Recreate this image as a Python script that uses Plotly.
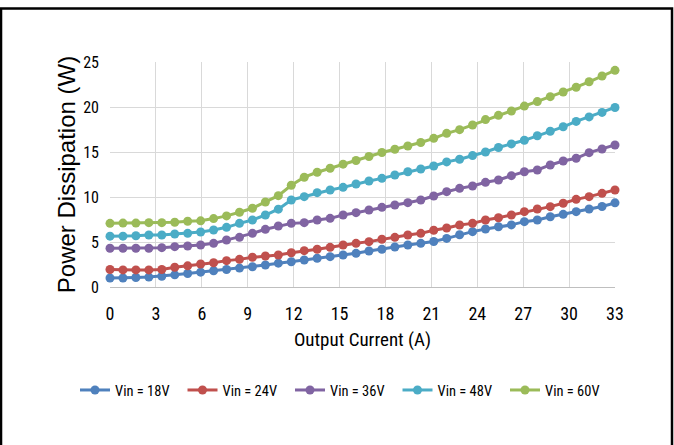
import plotly.graph_objects as go

current = [0, 0.846, 1.692, 2.538, 3.385, 4.231, 5.077, 5.923, 6.769, 7.615,
           8.462, 9.308, 10.154, 11, 11.846, 12.692, 13.538, 14.385, 15.231, 16.077,
           16.923, 17.769, 18.615, 19.462, 20.308, 21.154, 22, 22.846, 23.692, 24.538,
           25.385, 26.231, 27.077, 27.923, 28.769, 29.615, 30.462, 31.308, 32.154, 33]

vin18 = [1.0, 1.0, 1.05, 1.1, 1.2, 1.35, 1.5, 1.65, 1.8, 1.95,
         2.1, 2.25, 2.45, 2.65, 2.8, 3.0, 3.2, 3.37, 3.56, 3.74,
         4.0, 4.19, 4.45, 4.67, 4.85, 5.05, 5.4, 5.8, 6.15, 6.44,
         6.7, 6.9, 7.26, 7.45, 7.8, 8.07, 8.37, 8.67, 8.95, 9.35]

vin24 = [1.95, 1.9, 1.9, 1.9, 1.95, 2.2, 2.35, 2.55, 2.7, 2.93,
         3.07, 3.3, 3.44, 3.56, 3.81, 4.04, 4.2, 4.41, 4.67, 4.85,
         5.04, 5.3, 5.52, 5.78, 5.96, 6.3, 6.55, 6.89, 7.07, 7.44,
         7.7, 8.0, 8.37, 8.67, 8.93, 9.3, 9.74, 10.04, 10.41, 10.78]

vin36 = [4.3, 4.3, 4.3, 4.3, 4.37, 4.48, 4.56, 4.67, 4.85, 5.22,
         5.52, 5.96, 6.41, 6.78, 7.07, 7.15, 7.44, 7.63, 8.0, 8.26,
         8.56, 8.85, 9.11, 9.37, 9.67, 10.11, 10.59, 10.96, 11.22, 11.63,
         11.89, 12.37, 12.81, 13.0, 13.56, 14.0, 14.3, 14.93, 15.33, 15.78]

vin48 = [5.65, 5.65, 5.7, 5.78, 5.78, 5.89, 5.96, 6.11, 6.33, 6.63,
         7.07, 7.44, 8.0, 8.65, 9.67, 10.04, 10.48, 10.78, 11.07, 11.44,
         11.78, 12.07, 12.44, 12.81, 13.11, 13.44, 13.9, 14.2, 14.6, 15.0,
         15.5, 15.9, 16.3, 16.8, 17.3, 17.8, 18.4, 18.9, 19.4, 19.95]

vin60 = [7.07, 7.1, 7.1, 7.15, 7.15, 7.2, 7.3, 7.35, 7.6, 7.9,
         8.3, 8.75, 9.45, 10.15, 11.3, 12.2, 12.75, 13.2, 13.65, 14.05,
         14.5, 14.95, 15.3, 15.67, 16.05, 16.52, 17.07, 17.48, 18.0, 18.6,
         19.07, 19.56, 20.1, 20.6, 21.15, 21.67, 22.2, 22.8, 23.45, 24.07]

series_names = ["Vin = 18V", "Vin = 24V", "Vin = 36V", "Vin = 48V", "Vin = 60V"]
series_values = [vin18, vin24, vin36, vin48, vin60]
colors = ["#4F81BD", "#C0504D", "#8064A2", "#4BACC6", "#9BBB59"]

x_ticks = [0, 3, 6, 9, 12, 15, 18, 21, 24, 27, 30, 33]
y_ticks = [0, 5, 10, 15, 20, 25]

NARROW = "Liberation Sans Narrow, Arial Narrow, Roboto Condensed, Liberation Sans, Arial, sans-serif"
REG = "Liberation Sans, Arial, sans-serif"

fig = go.Figure()
for name, vals, col in zip(series_names, series_values, colors):
    fig.add_trace(go.Scatter(
        x=current, y=vals, name=name, mode="lines+markers",
        line=dict(color=col, width=3),
        marker=dict(color=col, size=9, symbol="circle"),
        cliponaxis=False,
    ))

fig.update_layout(
    width=674, height=445,
    margin=dict(l=110, r=59, t=62, b=158),
    paper_bgcolor="white", plot_bgcolor="white",
    showlegend=True,
    legend=dict(
        orientation="h", x=-0.0693, xanchor="left", y=-0.458, yanchor="middle",
        font=dict(family=NARROW, size=14.5, color="black"),
        entrywidth=62.5, entrywidthmode="pixels",
        itemwidth=30, bgcolor="rgba(0,0,0,0)",
    ),
    xaxis=dict(
        range=[0, 33], tickmode="array", tickvals=x_ticks,
        ticktext=[str(v) for v in x_ticks],
        showgrid=True, gridcolor="#D9D9D9", gridwidth=1,
        zeroline=False, showline=True, linecolor="#BFBFBF", linewidth=1,
        ticks="", ticklabelstandoff=10,
        tickfont=dict(family=NARROW, size=18, color="black"),
        title=dict(text="Output Current (A)", standoff=10,
                   font=dict(family=NARROW, size=19, color="black")),
    ),
    yaxis=dict(
        range=[0, 25], tickmode="array", tickvals=y_ticks,
        ticktext=[str(v) for v in y_ticks],
        showgrid=True, gridcolor="#D9D9D9", gridwidth=1,
        zeroline=False, showline=False,
        ticks="", ticklabelstandoff=10,
        tickfont=dict(family=NARROW, size=16, color="black"),
        title=dict(text="Power Dissipation (W)", standoff=0,
                   font=dict(family=REG, size=24, color="black")),
    ),
    shapes=[dict(type="rect", xref="paper", yref="paper",
                 x0=-0.2158, x1=1.1129, y0=-0.8, y1=1.2378,
                 line=dict(color="black", width=2.5), fillcolor="rgba(0,0,0,0)",
                 layer="above")],
)

fig.write_html(
    "out.html",
    config={"displayModeBar": False},
    post_script="document.body.style.margin='0';document.body.style.padding='0';document.body.style.overflow='hidden';",
)
